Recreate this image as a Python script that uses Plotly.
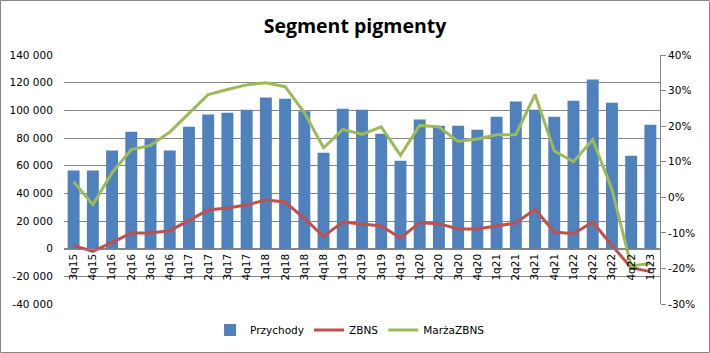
import plotly.graph_objects as go

categories = ["3q15", "4q15", "1q16", "2q16", "3q16", "4q16", "1q17", "2q17", "3q17", "4q17",
              "1q18", "2q18", "3q18", "4q18", "1q19", "2q19", "3q19", "4q19", "1q20", "2q20",
              "3q20", "4q20", "1q21", "2q21", "3q21", "4q21", "1q22", "2q22", "3q22", "4q22", "1q23"]

przychody = [56500, 56500, 71000, 84500, 79500, 71000, 88200, 96900, 98300, 100500,
             109200, 108400, 99300, 69400, 101200, 100500, 83100, 63600, 93300, 88900,
             88900, 86000, 95400, 106300, 100500, 95400, 107000, 122200, 105500, 67200, 89600]

zbns = [2200, -1900, 4600, 11300, 11300, 13000, 20500, 28000, 29400, 31600,
        35200, 33700, 21900, 8900, 19300, 18100, 16400, 7700, 18800, 18100,
        14200, 14200, 16600, 18600, 28400, 12000, 10800, 19300, 2300, -13700, -16600]

marza = [0.044, -0.021, 0.069, 0.134, 0.146, 0.183, 0.236, 0.289, 0.303, 0.316,
         0.322, 0.311, 0.238, 0.139, 0.191, 0.177, 0.198, 0.118, 0.202, 0.198,
         0.157, 0.164, 0.176, 0.176, 0.289, 0.130, 0.100, 0.162, 0.022, -0.193, -0.186]

left_ticks = [-40000, -20000, 0, 20000, 40000, 60000, 80000, 100000, 120000, 140000]
left_labels = ["-40 000", "-20 000", "0", "20 000", "40 000", "60 000", "80 000", "100 000", "120 000", "140 000"]
right_ticks = [-0.3, -0.2, -0.1, 0.0, 0.1, 0.2, 0.3, 0.4]
right_labels = ["-30%", "-20%", "-10%", "0%", "10%", "20%", "30%", "40%"]

GRID = "#868686"
FONT = "DejaVu Sans"
FS = 10.5

fig = go.Figure()
fig.add_trace(go.Bar(x=categories, y=przychody, name="Przychody", marker_color="#4F81BD",
                     marker_line_width=0, yaxis="y"))
fig.add_trace(go.Scatter(x=categories, y=zbns, name="ZBNS", mode="lines",
                         line=dict(color="#C0504D", width=3), yaxis="y"))
fig.add_trace(go.Scatter(x=categories, y=marza, name="MarżaZBNS", mode="lines",
                         line=dict(color="#9BBB59", width=3), yaxis="y2"))

ymin, ymax = -40000, 140000
zero_pos = (0 - ymin) / (ymax - ymin)

fig.update_layout(
    width=710, height=353,
    margin=dict(l=64, r=50, t=55, b=49, autoexpand=False),
    paper_bgcolor="white", plot_bgcolor="white",
    font=dict(family=FONT, size=FS, color="#000000"),
    title=dict(text="<b>Segment pigmenty</b>", x=0.5, xref="container", xanchor="center",
               y=0.925, yref="container", yanchor="middle",
               font=dict(family="Open Sans", size=19.5, color="#000000")),
    bargap=0.38,
    showlegend=True,
    legend=dict(orientation="h", x=0.48, xanchor="center", y=-0.104, yanchor="middle",
                font=dict(family=FONT, size=FS), itemwidth=30, traceorder="normal"),
    xaxis=dict(type="category", anchor="free", position=zero_pos, showline=True,
               linecolor=GRID, linewidth=1, ticks="", showgrid=False, tickangle=-90,
               tickfont=dict(family=FONT, size=FS), range=[-0.5, len(categories) - 0.5]),
    yaxis=dict(range=[ymin, ymax], tickvals=left_ticks, ticktext=left_labels,
               showgrid=True, gridcolor=GRID, gridwidth=1, zeroline=False,
               showline=False, ticks="outside", ticklen=8, tickcolor="rgba(0,0,0,0)",
               tickfont=dict(family=FONT, size=FS)),
    yaxis2=dict(range=[-0.3, 0.4], tickvals=right_ticks, ticktext=right_labels,
                overlaying="y", side="right", showgrid=False, zeroline=False,
                showline=True, linecolor=GRID, linewidth=1, ticks="outside", ticklen=5,
                tickcolor=GRID, tickfont=dict(family=FONT, size=FS)),
)

# outer chart border
pw, ph = 710 - 64 - 50, 353 - 55 - 49
fig.add_shape(type="rect", xref="paper", yref="paper",
              x0=(0.5 - 64) / pw, x1=(709.5 - 64) / pw,
              y0=(304 - 352.5) / ph, y1=(304 - 0.5) / ph,
              line=dict(color=GRID, width=1), fillcolor="rgba(0,0,0,0)", layer="above")

fig.write_html("out.html")
